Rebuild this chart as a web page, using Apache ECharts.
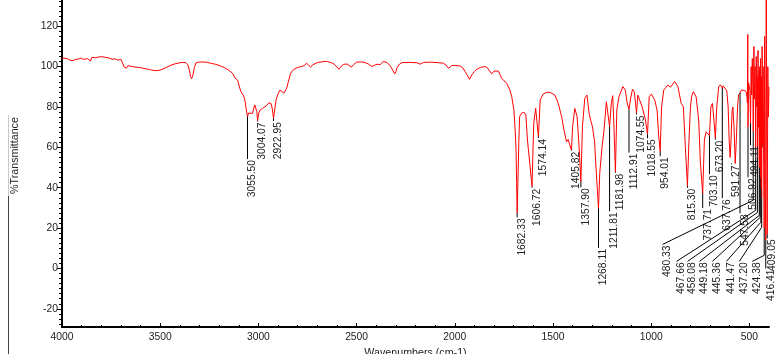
<!DOCTYPE html>
<html><head><meta charset="utf-8">
<script src="https://cdn.jsdelivr.net/npm/echarts@6/dist/echarts.min.js"></script>
<style>html,body{margin:0;padding:0;background:#fff}#c{width:779px;height:354px}</style>
</head><body><div id="c"></div>
<script>
// ---- spectrum (wavenumber cm-1, %T) ----
const wavenumbers = [
4000,3990,3975,3960,3944,3930,3915,3902,3890,3880,3870,3862,3855,3848,3840,3830,3820,3812,3805,3795,3788,3780,3770,3760,3752,3745,3740,3730,3722,3715,3708,3700,3693,3685,3678,3672,3665,3658,3650,3640,3630,3620,3610,3600,3590,3575,3560,3545,3530,3515,3500,3480,3460,3440,3420,3400,3385,3370,3360,3352,3345,3340,3334,3326,3318,3305,3280,3260,3240,3220,3200,3180,3160,3145,3130,3120,3112,3105,3098,3090,3082,3075,3068,3062,
3055.50,3050,3042,3030,3022,3018,3012,3008,3004.07,2998,2991,2980,2971,2960,2946,2935,2929,2922.95,2915,2910,2900,2890,2880,2870,2862,2856,2845,2836,2820,2802,2785,2776,2766,2755,2745,2734,2725,2717,2700,2680,2660,2649,2630,2616,2600,2590,2578,2565,2545,2535,2527,2515,2500,2480,2463,2440,2421,2410,2395,2379,2365,2358,2350,2337,2325,2319,2306,2300,2294,2280,2268,2230,2192,2176,2159,2120,2080,2058,2045,2032,2015,2000,1972,1960,1947,1935,1925,1913,1900,1888,1870,1846,1835,1829,1812,1800,1792,1778,1761,1750,1736,1720,1710,1699,1692,1688,1685,
1682.33,1678,1674,1670,1660,1648,1638,1630,1618,1606.72,1598,1588,1581,1574.14,1565,1550,1530,1516,1490,1473,1456,1444,1431,1423,1414,1405.82,1400,1389,1377,1367,1357.90,1350,1338,1327,1316,1308,1299,1288,1279,1268.11,1262,1250,1240,1228,1220,1211.81,1203,1196,1190,1181.98,1175,1164,1144,1132,1122,1112.91,1105,1095,1086,1080,1074.55,1068,1058,1046,1038,1030,1018.55,1010,999,982,970,961,954.01,947,936,914,902,880,864,847,836,826,815.30,808,800,794,785,771,758,750,737.71,729,720,712,703.10,696,688,680,673.20,666,656,648,640,637.76,633,625,615,608,603,598,594,588,584,578,572,567,560,555,547.58,540,530,520,
515,512,510,508,506.92,504,500,497,494.11,491,488,485,482,480.33,477,474,471,469,467.66,465,462,460,458.08,456,453,451,449.18,447,445.36,443,441.47,439,437.20,435,432,430,427,424.38,422,419,416.41,414,412,409.05,406,403,400];
const transmittance = [
104.3,104.5,104,103.2,103,103.6,103.8,104.2,103.6,104.4,103.9,104.5,102.8,104.6,104.9,104.4,105.2,104.8,105.4,104.9,105.3,104.6,104.9,104.3,104.7,103.6,104.5,103.9,104.3,103.2,103.8,103.6,102.2,100,100.8,99.2,100.4,99.6,100.2,99.5,99.8,99.3,99.6,99.1,99.3,98.9,98.7,98.3,98.1,98,98.3,99.1,100,100.9,101.5,101.9,102.1,102,101,98.5,95,94,95.5,99.5,101.8,102.2,102.3,102.1,101.6,101.2,100.6,99.8,98.8,97.8,96.5,94.5,93.6,93.2,90.5,87.8,87.2,85.5,83,79,
75.2,77,77.2,76.8,80,81,79,77.7,73.2,77,78.5,79.2,79.8,80.6,82.1,81.6,79,74.4,80,83.5,86.5,88.4,88.2,86.8,87.5,89.3,93.5,96.7,98.6,99.5,100,100,100.5,101.7,100.8,99.7,100.8,101.7,102,102.3,102.6,102.5,102,101.3,99.8,98.7,100.2,101.2,101.2,100.5,99.7,101,102.2,102.3,102.2,101.3,100,100.6,101.2,101,102.5,103,102.2,101.3,99.9,99.2,96.4,97.5,99.5,101.4,102,102.1,101.9,101.2,102.1,102.2,101.9,101.7,100.8,99.2,100.5,100.6,100.3,99.5,97.5,95.5,93.7,95.9,97.6,98.7,99.6,100,99.5,98.9,96.4,97.8,98.4,97.8,94.2,93,91.8,88.5,85.1,78.5,68,58.6,42,
27.5,45,62,75.2,76.9,77.4,76,63.6,52,40.7,71.9,79.3,78.5,65.2,83.5,86.4,87.3,87.3,85.9,81.8,75.2,68.6,62.7,63.9,61.1,58.6,70.2,79.3,75.2,60.3,42.9,70.2,84.3,85.9,76.9,73.5,70.2,62.7,47,29.7,47,60.3,68.6,82.6,83.5,70.2,81.8,85.6,71.9,47.8,78.5,85.1,90.1,88.4,82,78.8,84,88.8,87.6,82,76.9,85.9,85.1,80.1,81,74,66.5,85.1,86.4,83.5,78.5,65,58,80.1,88.4,90.9,89.8,92.6,90.1,81.8,80.1,60.3,41,62,80,85.1,87.6,85,73.5,53.7,37,63.6,67.7,66.8,65.8,80.1,81.8,73,64.6,80,90,91,90.5,89.4,90.5,90.8,88,80,64,55,62,78,80,70,52,62,80,86,87,88.5,89,88,
87,85,82,116,70,92,90,88,72,100,86,104,90,68,110,84,100,75,60,105,80,95,55,108,70,98,50,100,45,104,40,95,35,110,60,100,50,20,115,40,14,140,80,17,100,75,90];

// ---- peak annotations ----
const peakLabels = ['3055.50','3004.07','2922.95','1682.33','1606.72','1574.14','1405.82','1357.90','1268.11','1211.81','1181.98','1112.91','1074.55','1018.55','954.01','815.30','737.71','703.10','673.20','637.76','591.27','547.58','506.92','494.11','480.33','467.66','458.08','449.18','445.36','441.47','437.20','424.38','416.41','409.05'];
const peakWavenumbers = [3055.50,3004.07,2922.95,1682.33,1606.72,1574.14,1405.82,1357.90,1268.11,1211.81,1181.98,1112.91,1074.55,1018.55,954.01,815.30,737.71,703.10,673.20,637.76,591.27,547.58,506.92,494.11,480.33,467.66,458.08,449.18,445.36,441.47,437.20,424.38,416.41,409.05];
const peakT = [75.2,73.2,74.4,27.5,40.7,65.2,58.6,42.9,29.7,70.2,47.8,78.8,76.9,66.5,58,41,37,65.8,64.6,89.4,52,87,70,72,68,60,55,50,45,40,35,20,14,17];
const leaderBendT = [54.2,72.8,73,25.3,40,64.6,58.3,40.2,10.2,28.3,47.4,57.4,76.3,64.5,55.6,40,30,46.7,63.8,34.8,51.5,27.3,45.2,61.1,33.8,28.8,27.8,26.3,25.3,22.9,20.4,6.5,0,14.9];
const labelWavenumbers = [3055.50,3004.07,2922.95,1682.33,1606.72,1574.14,1405.82,1357.90,1268.11,1211.81,1181.98,1112.91,1074.55,1018.55,954.01,815.30,737.71,703.10,673.20,637.76,591.27,547.58,506.92,494.11,942,871,815,754,688,617,551,485,416.41,409.05];
const labelT = [54.2,72.8,73,25.3,40,64.6,58.3,40.2,10.2,28.3,47.4,57.4,76.3,64.5,55.6,40,30,46.7,63.8,34.8,51.5,27.3,45.2,61.1,11.9,3.5,3.5,3.5,3.5,3.5,3.5,3.5,0,14.9];

// ---- axes ----
const xTickLabels = [500,1000,1500,2000,2500,3000,3500,4000];
const xMinorTicks = [500,600,700,800,900,1000,1100,1200,1300,1400,1500,1600,1700,1800,1900,2000,2100,2200,2300,2400,2500,2600,2700,2800,2900,3000,3100,3200,3300,3400,3500,3600,3700,3800,3900,4000];
const yTickLabels = [-20,0,20,40,60,80,100,120];
const yMinorTicks = [-27.5,-25,-22.5,-20,-17.5,-15,-12.5,-10,-7.5,-5,-2.5,0,2.5,5,7.5,10,12.5,15,17.5,20,22.5,25,27.5,30,32.5,35,37.5,40,42.5,45,47.5,50,52.5,55,57.5,60,62.5,65,67.5,70,72.5,75,77.5,80,82.5,85,87.5,90,92.5,95,97.5,100,102.5,105,107.5,110,112.5,115,117.5,120,122.5,125,127.5,130,132.5];

const X_MIN = 400, X_MAX = 4000, Y_MIN = -29, Y_MAX = 133;
const FONT = 'Liberation Sans, Arial, Helvetica, sans-serif';
const plain = v => String(v);

const spectrum = wavenumbers.map((w, i) => [w, transmittance[i]]);
const peaks = peakWavenumbers.map((w, i) => [w, peakT[i], leaderBendT[i], labelWavenumbers[i], labelT[i], i]);

const chart = echarts.init(document.getElementById('c'), null, {renderer: 'canvas'});
const gridPos = {left: 62, right: 10, top: 0, bottom: 27, containLabel: false, outerBoundsMode: 'none'};
chart.setOption({
  animation: false,
  backgroundColor: '#fff',
  grid: [Object.assign({}, gridPos), Object.assign({}, gridPos)],
  graphic: [
    {type: 'line', shape: {x1: 8.5, y1: 115, x2: 8.5, y2: 196}, style: {stroke: '#c8c8c8', lineWidth: 1}, silent: true},
    {type: 'line', shape: {x1: 8.5, y1: 196, x2: 8.5, y2: 354}, style: {stroke: '#444', lineWidth: 1}, silent: true}
  ],
  xAxis: [
    {type: 'value', gridIndex: 0, min: X_MIN, max: X_MAX, inverse: true, position: 'bottom',
     axisLine: {show: true, onZero: false, lineStyle: {color: '#000', width: 2}},
     axisTick: {show: true, customValues: xTickLabels, inside: true, length: 4, lineStyle: {color: '#000', width: 1}},
     axisLabel: {customValues: xTickLabels, formatter: plain, color: '#222', fontSize: 10.3, fontFamily: FONT, margin: 5},
     splitLine: {show: false},
     name: 'Wavenumbers (cm-1)', nameLocation: 'middle', nameGap: 21,
     nameTextStyle: {color: '#222', fontSize: 10.7, fontFamily: FONT}},
    {type: 'value', gridIndex: 1, min: X_MIN, max: X_MAX, inverse: true, position: 'bottom',
     axisLine: {show: false, onZero: false},
     axisTick: {show: true, customValues: xMinorTicks, inside: true, length: 2, lineStyle: {color: '#000', width: 1}},
     axisLabel: {show: false}, splitLine: {show: false}}
  ],
  yAxis: [
    {type: 'value', gridIndex: 0, min: Y_MIN, max: Y_MAX, position: 'left',
     axisLine: {show: true, onZero: false, lineStyle: {color: '#000', width: 2}},
     axisTick: {show: true, customValues: yTickLabels, length: 5, lineStyle: {color: '#000', width: 1}},
     axisLabel: {customValues: yTickLabels, formatter: plain, color: '#222', fontSize: 10.3, fontFamily: FONT, margin: 4},
     splitLine: {show: false},
     name: '%Transmittance', nameLocation: 'middle', nameRotate: 90, nameGap: 41,
     nameTextStyle: {color: '#222', fontSize: 10.7, fontFamily: FONT, padding: [0, 0, 0, 16]}},
    {type: 'value', gridIndex: 1, min: Y_MIN, max: Y_MAX, position: 'left',
     axisLine: {show: false, onZero: false},
     axisTick: {show: true, customValues: yMinorTicks, length: 3, lineStyle: {color: '#000', width: 1}},
     axisLabel: {show: false}, splitLine: {show: false}}
  ],
  series: [
    {type: 'line', xAxisIndex: 0, yAxisIndex: 0, data: spectrum, showSymbol: false, symbol: 'none',
     clip: true, lineStyle: {color: '#ff0000', width: 1}, z: 3},
    {type: 'custom', xAxisIndex: 0, yAxisIndex: 0, data: peaks, clip: false, z: 4,
     renderItem: function (params, api) {
       const p = api.coord([api.value(0), api.value(1)]);
       const b = api.coord([api.value(0), api.value(2)]);
       const l = api.coord([api.value(3), api.value(4)]);
       const idx = api.value(5);
       return {type: 'group', children: [
         {type: 'polyline', shape: {points: [p, b, l]}, style: {stroke: '#000', lineWidth: 1, fill: null}},
         {type: 'text', x: l[0] + 5, y: l[1] + 1, rotation: Math.PI / 2,
          style: {text: peakLabels[idx], align: 'right', verticalAlign: 'middle',
                  font: '10.3px ' + FONT, fill: '#222'}}
       ]};
     }}
  ]
});
</script>
</body></html>
